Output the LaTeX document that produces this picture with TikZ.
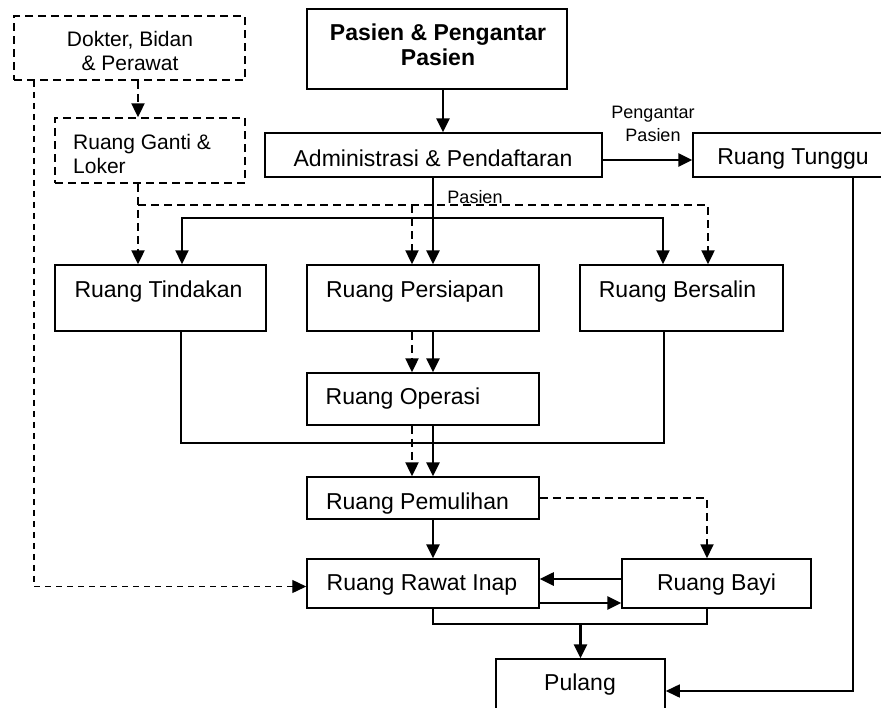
\documentclass[tikz,border=0pt]{standalone}
\usepackage{fontspec}
\setmainfont{Liberation Sans}
\usetikzlibrary{arrows.meta}
\tikzset{
  box/.style={draw=black, line width=1.5pt, rectangle, inner sep=0pt},
  dbox/.style={box, dash pattern=on 8pt off 5pt},
  txt/.style={inner sep=0pt, font=\fontsize{23}{27}\selectfont},
  smalltxt/.style={inner sep=0pt, font=\fontsize{18}{23}\selectfont},
  tip/.style={-{Triangle[length=14pt,width=13pt]}},
  sarr/.style={line width=2.6pt, tip},
  darr/.style={line width=2.4pt, dash pattern=on 8pt off 5pt, tip},
  sline/.style={line width=1.6pt},
}
\begin{document}
\begin{tikzpicture}[x=1pt,y=-1pt]
\useasboundingbox (0,0) rectangle (881,707);
\fill[white] (0,0) rectangle (881,707);
\clip (0,0) rectangle (881,707);

% boxes
\node[dbox, minimum width=231pt, minimum height=64pt] (dok) at (129.5,48) {};
\node[dbox, minimum width=190pt, minimum height=65pt] (gan) at (150,150.5) {};
\node[box, minimum width=260pt, minimum height=80pt] (pas) at (437,49) {};
\node[box, minimum width=337pt, minimum height=44pt] (adm) at (433.5,155) {};
\node[box, minimum width=197pt, minimum height=44pt] (tun) at (791.5,155) {};
\node[box, minimum width=211pt, minimum height=66pt] (tind) at (160.5,298) {};
\node[box, minimum width=232pt, minimum height=66pt] (pers) at (423,298) {};
\node[box, minimum width=203pt, minimum height=66pt] (bers) at (681.5,298) {};
\node[box, minimum width=232pt, minimum height=52pt] (ope) at (423,399) {};
\node[box, minimum width=232pt, minimum height=42pt] (pem) at (423,498) {};
\node[box, minimum width=232pt, minimum height=49pt] (raw) at (423,583.5) {};
\node[box, minimum width=189pt, minimum height=49pt] (bay) at (716.5,583.5) {};
\node[box, minimum width=169pt, minimum height=61pt] (pul) at (580.5,689.5) {};

% texts
\node[txt, font=\fontsize{21}{24}\selectfont, align=center] (tdok) at (130,51) {Dokter, Bidan\\\& Perawat};
\node[txt, font=\fontsize{21}{24}\selectfont, align=left, anchor=west] (tgan) at (73,153.5) {Ruang Ganti \&\\Loker};
\node[txt, font=\bfseries\fontsize{23}{25}\selectfont, align=center] (tpas) at (438,45) {Pasien \& Pengantar\\Pasien};
\node[txt, anchor=base] (tadm) at (433,166) {Administrasi \& Pendaftaran};
\node[txt, anchor=base] (ttun) at (793,164) {Ruang Tunggu};
\node[txt, anchor=base] (ttind) at (158.5,297) {Ruang Tindakan};
\node[txt, anchor=base] (tpers) at (415,297) {Ruang Persiapan};
\node[txt, anchor=base] (tbers) at (677.5,297) {Ruang Bersalin};
\node[txt, anchor=base] (tope) at (403,404) {Ruang Operasi};
\node[txt, anchor=base] (tpem) at (417.5,509) {Ruang Pemulihan};
\node[txt, anchor=base] (traw) at (422,590) {Ruang Rawat Inap};
\node[txt, anchor=base] (tbay) at (716.5,590) {Ruang Bayi};
\node[txt, anchor=base] (tpul) at (580,690) {Pulang};
\node[smalltxt, anchor=base] (lpas) at (475,203) {Pasien};
\node[smalltxt, align=center] (lpeng) at (653,123.5) {Pengantar\\Pasien};

% dashed staff flow
\draw[darr] (138,0 |- dok.south) -- (138,0 |- gan.north);
\draw[line width=1.4pt, dash pattern=on 6pt off 5pt, tip] (34,0 |- dok.south) |- ([yshift=-3pt]raw.west);
\coordinate (dj) at (138,205);
\draw[darr] (138,0 |- gan.south) -- (138,0 |- tind.north);
\draw[darr] (dj) -| (708,0 |- bers.north);
\draw[darr] (412,205) -- (412,0 |- pers.north);

% patient flow
\draw[sarr] (pas.south -| 443,0) -- (443,0 |- adm.north);
\draw[sarr] (433,0 |- adm.south) -- (433,0 |- pers.north);
\coordinate (sj) at (433,218);
\draw[sarr, line width=2.2pt] (sj) -| (182,0 |- tind.north);
\draw[sarr, line width=2.2pt] (sj) -| (663,0 |- bers.north);
\draw[sarr] (adm.east |- 0,160) -- (tun.west |- 0,160);
\draw[sline, tip] (853,0 |- tun.south) |- (pul.east |- 0,691);

\draw[darr] (412,0 |- pers.south) -- (412,0 |- ope.north);
\draw[sarr] (433,0 |- pers.south) -- (433,0 |- ope.north);
\draw[sline] (181,0 |- tind.south) |- (664,443) -- (664,0 |- bers.south);
\draw[darr] (412,0 |- ope.south) -- (412,0 |- pem.north);
\draw[sarr] (433,0 |- ope.south) -- (433,0 |- pem.north);
\draw[sarr] (433,0 |- pem.south) -- (433,0 |- raw.north);
\draw[darr, line width=1.8pt] (pem.east) -| (707,0 |- bay.north);
\draw[sarr] (bay.west |- 0,579) -- (raw.east |- 0,579);
\draw[sarr] (raw.east |- 0,603) -- (bay.west |- 0,603);
\draw[sline] (433,0 |- raw.south) |- (707,624) -- (707,0 |- bay.south);
\draw[sarr] (580.5,624) -- (pul.north);
\end{tikzpicture}
\end{document}
